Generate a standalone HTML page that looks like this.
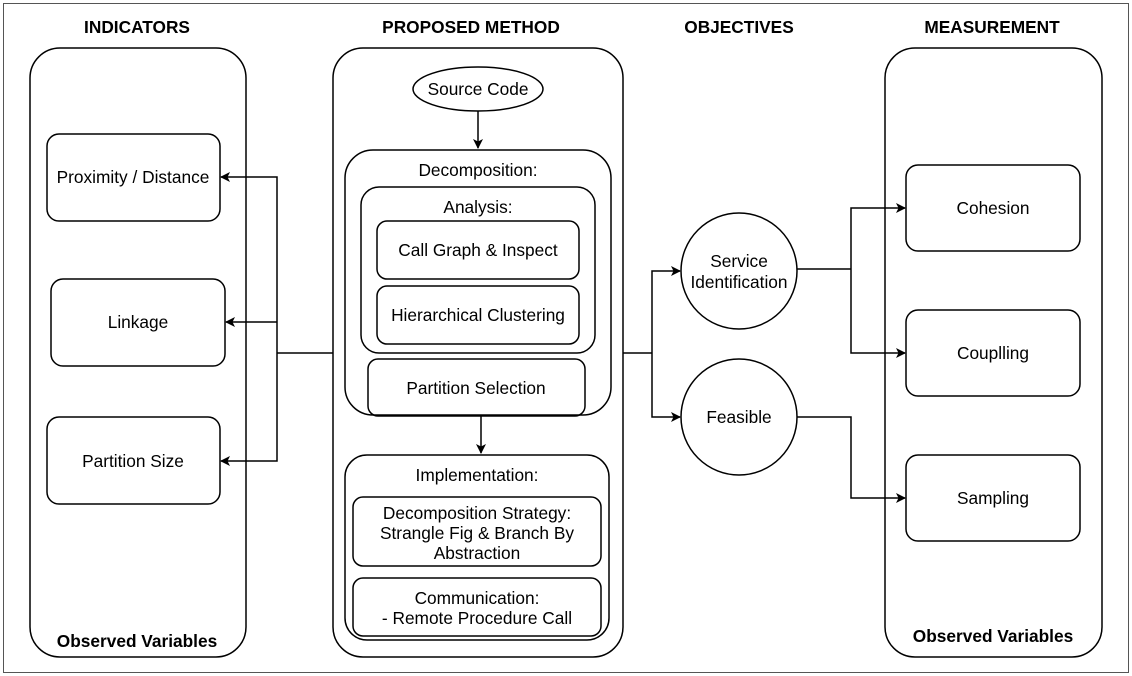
<!DOCTYPE html>
<html><head><meta charset="utf-8"><style>
html,body{margin:0;padding:0;background:#fff;}
svg{display:block;font-family:"Liberation Sans",Arial,sans-serif;}
text{font-size:17.3px;fill:#000;text-anchor:middle;dominant-baseline:central;}
.b{font-weight:bold;}
</style></head><body>
<svg width="1132" height="676" viewBox="0 0 1132 676">
<defs><marker id="a" markerWidth="10" markerHeight="10" refX="9" refY="5" orient="auto" markerUnits="userSpaceOnUse"><path d="M0,0 L10,5 L0,10 L2.5,5 Z" fill="#000"/></marker></defs>
<rect x="3.5" y="3.5" width="1125" height="669" fill="none" stroke="#555" stroke-width="1"/>
<g fill="none" stroke="#000" stroke-width="1.5">
<rect x="30" y="48" width="216" height="609" rx="30"/>
<rect x="47" y="134" width="173" height="87" rx="12"/>
<rect x="51" y="279" width="174" height="87" rx="12"/>
<rect x="47" y="417" width="173" height="87" rx="12"/>
<rect x="333" y="48" width="290" height="609" rx="30"/>
<ellipse cx="478" cy="89" rx="65" ry="22"/>
<rect x="345" y="150" width="266" height="265" rx="28"/>
<rect x="361" y="187" width="234" height="166" rx="18"/>
<rect x="377" y="221" width="202" height="58" rx="10"/>
<rect x="377" y="286" width="202" height="58" rx="10"/>
<rect x="368" y="359" width="217" height="57" rx="10"/>
<rect x="345" y="455" width="264" height="185" rx="22"/>
<rect x="353" y="497" width="248" height="69" rx="10"/>
<rect x="353" y="578" width="248" height="58" rx="10"/>
<circle cx="739" cy="271" r="58"/>
<circle cx="739" cy="417" r="58"/>
<rect x="885" y="48" width="217" height="609" rx="30"/>
<rect x="906" y="165" width="174" height="86" rx="12"/>
<rect x="906" y="310" width="174" height="86" rx="12"/>
<rect x="906" y="455" width="174" height="86" rx="12"/>
<path d="M478,111 V148" marker-end="url(#a)"/>
<path d="M481,416 V453" marker-end="url(#a)"/>
<path d="M333,353 H277"/>
<path d="M277,353 V177 H221" marker-end="url(#a)"/>
<path d="M277,322 H226" marker-end="url(#a)"/>
<path d="M277,353 V461 H221" marker-end="url(#a)"/>
<path d="M623,353 H652"/>
<path d="M652,353 V271 H680" marker-end="url(#a)"/>
<path d="M652,353 V417 H680" marker-end="url(#a)"/>
<path d="M797,269 H851"/>
<path d="M851,269 V208 H905" marker-end="url(#a)"/>
<path d="M851,269 V353 H905" marker-end="url(#a)"/>
<path d="M797,417 H851 V498 H905" marker-end="url(#a)"/>
</g>
<text class="b" x="137" y="27">INDICATORS</text>
<text class="b" x="471" y="27">PROPOSED METHOD</text>
<text class="b" x="739" y="27">OBJECTIVES</text>
<text class="b" x="992" y="27">MEASUREMENT</text>
<text class="b" x="137" y="641">Observed Variables</text>
<text class="b" x="993" y="636">Observed Variables</text>
<text x="133" y="177">Proximity / Distance</text>
<text x="138" y="322">Linkage</text>
<text x="133" y="461">Partition Size</text>
<text x="478" y="89">Source Code</text>
<text x="478" y="170">Decomposition:</text>
<text x="478" y="207">Analysis:</text>
<text x="478" y="250">Call Graph &amp; Inspect</text>
<text x="478" y="315">Hierarchical Clustering</text>
<text x="476" y="388">Partition Selection</text>
<text x="477" y="475">Implementation:</text>
<text x="477" y="513">Decomposition Strategy:</text>
<text x="477" y="533">Strangle Fig &amp; Branch By</text>
<text x="477" y="553">Abstraction</text>
<text x="477" y="598">Communication:</text>
<text x="477" y="618">- Remote Procedure Call</text>
<text x="739" y="261">Service</text>
<text x="739" y="282">Identification</text>
<text x="739" y="417">Feasible</text>
<text x="993" y="208">Cohesion</text>
<text x="993" y="353">Couplling</text>
<text x="993" y="498">Sampling</text>
</svg>
</body></html>
